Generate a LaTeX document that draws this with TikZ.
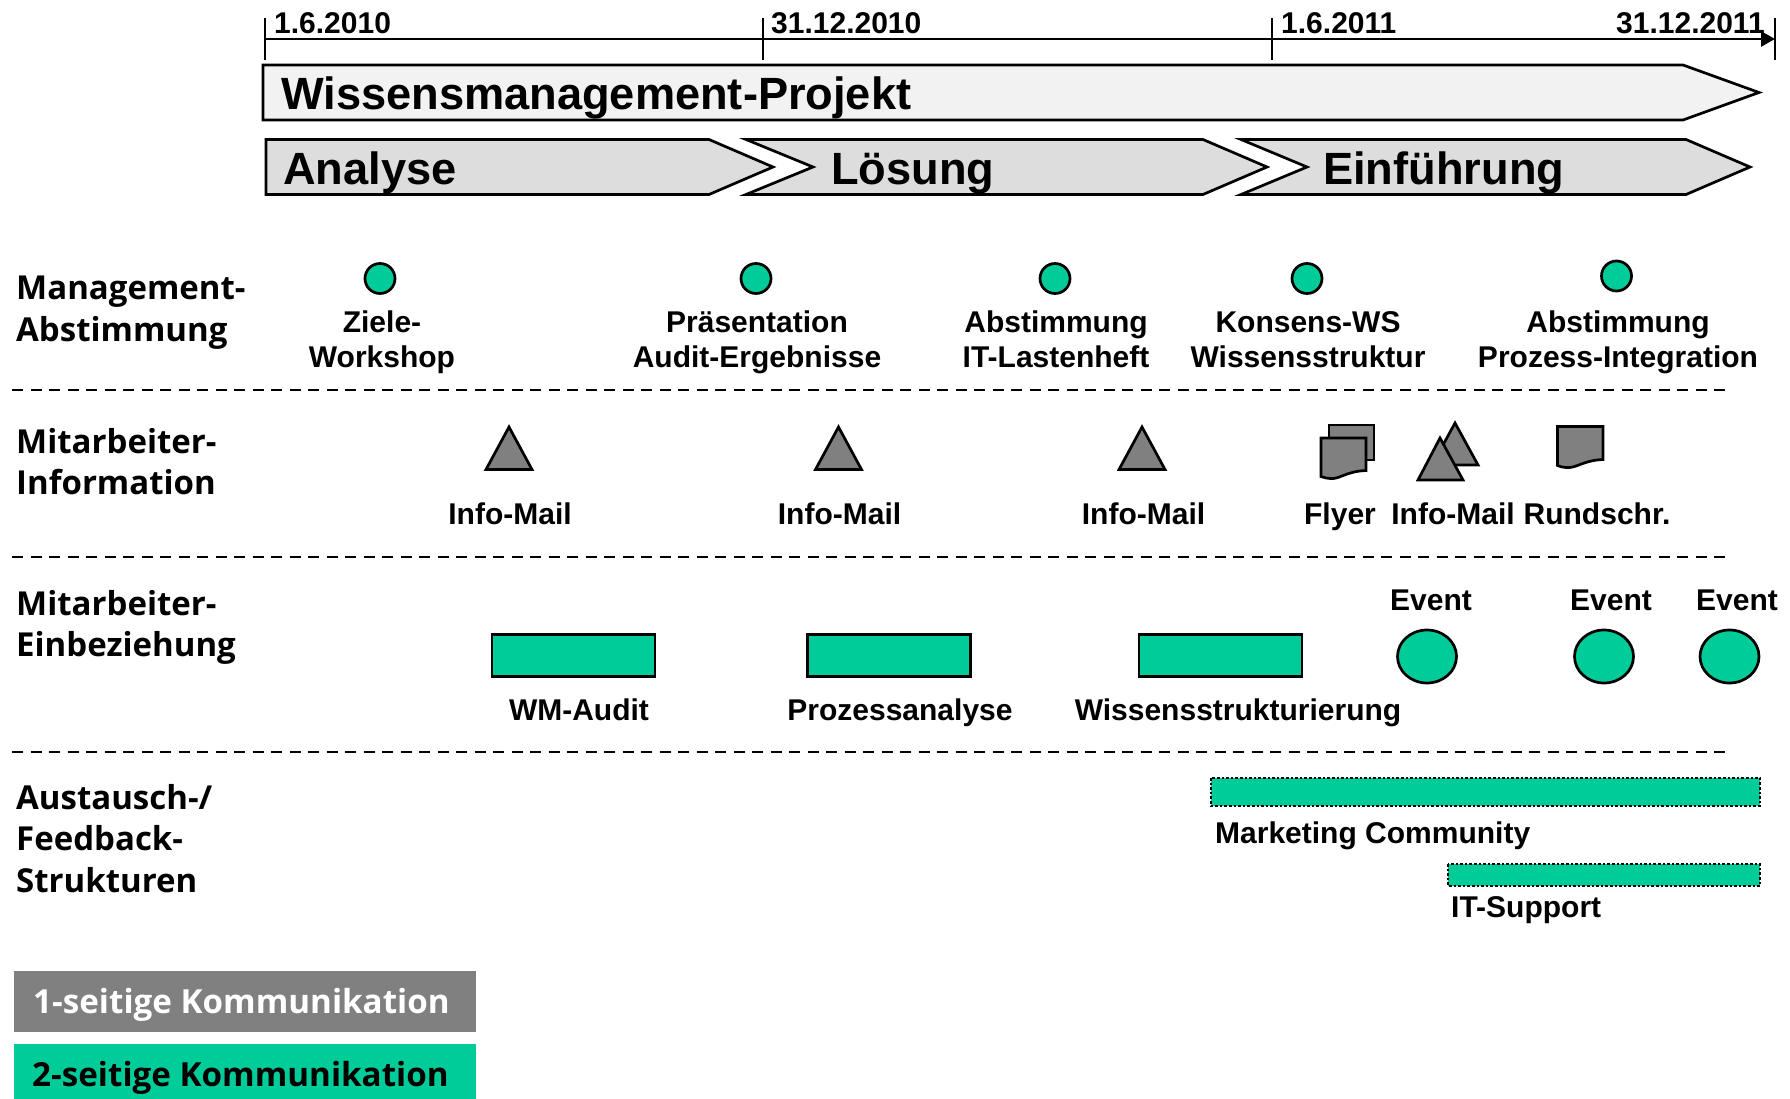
\documentclass[tikz,border=0pt]{standalone}
\usepackage{fontspec}
\setmainfont{Liberation Sans}
\newfontfamily\rowfont{Open Sans}
\usetikzlibrary{shapes.geometric,arrows.meta}
\definecolor{wmgreen}{HTML}{00CC99}
\definecolor{wmgrey}{HTML}{808080}
\definecolor{wmlight}{HTML}{F2F2F2}
\definecolor{wmmid}{HTML}{DDDDDD}
\tikzset{
  lbl/.style={inner sep=0pt,anchor=base,font=\bfseries\fontsize{30}{35.5}\selectfont,align=center},
  lbll/.style={lbl,anchor=base west,align=left},
  dat/.style={inner sep=0pt,anchor=base west,font=\bfseries\fontsize{30}{36}\selectfont},
  hd/.style={inner sep=0pt,anchor=base west,font=\bfseries\fontsize{45.2}{54}\selectfont},
  rowlbl/.style={inner sep=0pt,anchor=north west,align=left,font=\rowfont\bfseries\fontsize{33}{41.7}\selectfont},
  outl/.style={draw=black,line width=2.7pt,line join=miter},
  one/.style={outl,fill=wmgrey},
  dot/.style={circle,draw=black,line width=2.7pt,fill=wmgreen,minimum size=30pt,inner sep=0pt},
  evt/.style={ellipse,draw=black,line width=2.7pt,fill=wmgreen,minimum width=59pt,minimum height=53pt,inner sep=0pt},
  wbar/.style={draw=black,line width=2.7pt,fill=wmgreen,inner sep=0pt,minimum width=163pt,minimum height=42pt},
  fbar/.style={draw=black,line width=2.6pt,dotted,fill=wmgreen},
  sep/.style={draw=black,line width=2pt,dash pattern=on 11pt off 7.5pt},
  leg/.style={inner sep=0pt,anchor=base west,font=\rowfont\bfseries\fontsize{33.2}{38}\selectfont},
}
\begin{document}
\begin{tikzpicture}[x=1pt,y=-1pt]
\useasboundingbox (0,0) rectangle (1790,1099);
% time axis
\coordinate (axs) at (265,39); \coordinate (axe) at (1775,39);
\draw[line width=2.8pt,-{Triangle[length=14pt,width=15pt]}] (axs) -- (axe);
\foreach \x in {265,763,1272,1775} \draw[line width=2.8pt] (\x,18) -- (\x,60);
\node[dat] (d1) at (274,34) {1.6.2010};
\node[dat] (d2) at (771,34) {31.12.2010};
\node[dat] (d3) at (1281,34) {1.6.2011};
\node[dat] (d4) at (1616,34) {31.12.2011};
% arrows
\draw[outl,fill=wmlight] (263,65) -- (1683,65) -- (1759,92.5) -- (1683,120) -- (263,120) -- cycle;
\node[hd] (wm) at (281,109.5) {Wissensmanagement-Projekt};
\draw[outl,fill=wmmid] (266,139.5) -- (709,139.5) -- (773,167) -- (709,194.5) -- (266,194.5) -- cycle;
\draw[outl,fill=wmmid] (746,139.5) -- (1203,139.5) -- (1267,167) -- (1203,194.5) -- (746,194.5) -- (813,167) -- cycle;
\draw[outl,fill=wmmid] (1241,139.5) -- (1686,139.5) -- (1750,167) -- (1686,194.5) -- (1241,194.5) -- (1307,167) -- cycle;
\node[hd] (p1) at (283,185) {Analyse};
\node[hd] (p2) at (831,185) {Lösung};
\node[hd] (p3) at (1323,185) {Einführung};
% row labels
\node[rowlbl] (r1) at (16,276) {Management-\\Abstimmung};
\node[rowlbl] (r2) at (16,428) {Mitarbeiter-\\Information};
\node[rowlbl] (r3) at (16,590) {Mitarbeiter-\\Einbeziehung};
\node[rowlbl] (r4) at (16,784) {Austausch-/\\Feedback-\\Strukturen};
% separators
\coordinate (s1a) at (12,390); \coordinate (s1b) at (1730,390);
\coordinate (s2a) at (12,556.5); \coordinate (s2b) at (1730,556.5);
\coordinate (s3a) at (12,751.5); \coordinate (s3b) at (1730,751.5);
\draw[sep] (s1a) -- (s1b); \draw[sep] (s2a) -- (s2b); \draw[sep] (s3a) -- (s3b);
% row 1
\node[dot] (m1) at (380,278.5) {};
\node[dot] (m2) at (756,278.5) {};
\node[dot] (m3) at (1055,278.5) {};
\node[dot] (m4) at (1307,278.5) {};
\node[dot] (m5) at (1616.5,276) {};
\node[lbl] (ml1) at (382,367.5) {Ziele-\\Workshop};
\node[lbl] (ml2) at (757,367.5) {Präsentation\\Audit-Ergebnisse};
\node[lbl] (ml3) at (1056,367.5) {Abstimmung\\IT-Lastenheft};
\node[lbl] (ml4) at (1308,367.5) {Konsens-WS\\Wissensstruktur};
\node[lbl] (ml5) at (1618,367.5) {Abstimmung\\Prozess-Integration};
% row 2
\foreach \x in {509,838.5,1142} \draw[one] (\x,427) -- (\x+23,469.5) -- (\x-23,469.5) -- cycle;
\node[lbl] (i1) at (510,524) {Info-Mail};
\node[lbl] (i2) at (839.5,524) {Info-Mail};
\node[lbl] (i3) at (1143.5,524) {Info-Mail};
\draw[one] (1329,425) rectangle (1374,460);
\draw[one] (1321,438) -- (1366,438) -- (1366,470.5) .. controls (1345,471.5) and (1340,479.5) .. (1330,478.5) .. controls (1327,478.5) and (1324,477.5) .. (1321,476.5) -- cycle;
\draw[one] (1455,423) -- (1478,465) -- (1432,465) -- cycle;
\draw[one] (1440,438) -- (1463,480) -- (1418,480) -- cycle;
\draw[one] (1557.5,426.5) -- (1603,426.5) -- (1603,459.5) .. controls (1582,460.5) and (1577,468.5) .. (1566,467.5) .. controls (1563,467.5) and (1560,466.5) .. (1557.5,465.5) -- cycle;
\node[lbl] (f1) at (1340,524) {Flyer};
\node[lbl] (f2) at (1453,524) {Info-Mail};
\node[lbl] (f3) at (1597,524) {Rundschr.};
% row 3
\node[wbar] (w1) at (573.5,655.5) {};
\node[wbar] (w2) at (889,655.5) {};
\node[wbar] (w3) at (1220.5,655.5) {};
\node[lbl] (wl1) at (579,720) {WM-Audit};
\node[lbl] (wl2) at (900,720) {Prozessanalyse};
\node[lbl] (wl3) at (1238,720) {Wissensstrukturierung};
\node[evt] (e1) at (1427,656.5) {};
\node[evt] (e2) at (1604,656.5) {};
\node[evt] (e3) at (1729.5,656.5) {};
\node[lbl] (el1) at (1431,610) {Event};
\node[lbl] (el2) at (1611,610) {Event};
\node[lbl] (el3) at (1737,610) {Event};
% row 4
\draw[fbar] (1211,778) rectangle (1760,806);
\draw[fbar] (1448,864) rectangle (1760,886);
\node[lbll] (c1) at (1215,843.5) {Marketing Community};
\node[lbll] (c2) at (1451,917) {IT-Support};
% legend
\fill[wmgrey] (14,971) rectangle (476,1032);
\fill[wmgreen] (14,1044) rectangle (476,1099);
\node[leg,text=white] (l1) at (33,1013.5) {1-seitige Kommunikation};
\node[leg] (l2) at (32,1086.5) {2-seitige Kommunikation};
\end{tikzpicture}
\end{document}
